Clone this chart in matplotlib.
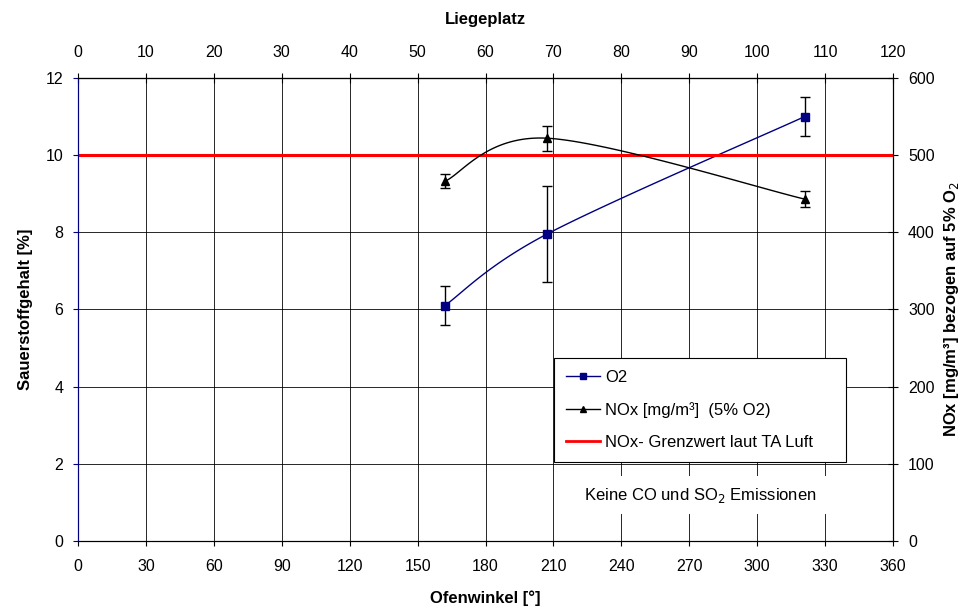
import matplotlib.pyplot as plt
from matplotlib.lines import Line2D
import numpy as np

plt.rcParams['font.family'] = ['Liberation Sans', 'DejaVu Sans']
plt.rcParams['font.size'] = 11.5

# Data
ofenwinkel = [162, 207, 321]
o2 = [6.1, 7.95, 11.0]
o2_err = [0.5, 1.25, 0.5]
nox = [466, 522, 443]
nox_err = [9, 16, 10]
nox_grenzwert = 500

x_ticks = np.arange(0, 361, 30)
liegeplatz_ticks = np.arange(0, 121, 10)
o2_ticks = np.arange(0, 13, 2)
nox_ticks = np.arange(0, 601, 100)

navy = '#000080'


def smooth(x, y, sx, sy, n=40):
    # Excel-like smoothed line (Bezier through the points)
    P = np.column_stack([np.asarray(x, float) * sx, np.asarray(y, float) * sy])
    E = np.vstack([P[0], P, P[-1]])
    parts = []
    for i in range(len(P) - 1):
        p0, p1, p2, p3 = E[i], E[i + 1], E[i + 2], E[i + 3]
        c1 = p1 + (p2 - p0) / 6
        c2 = p2 - (p3 - p1) / 6
        t = np.linspace(0, 1, n)[:, None]
        seg = (1 - t) ** 3 * p1 + 3 * (1 - t) ** 2 * t * c1 + 3 * (1 - t) * t ** 2 * c2 + t ** 3 * p2
        parts.append(seg if i == 0 else seg[1:])
    out = np.vstack(parts)
    return out[:, 0] / sx, out[:, 1] / sy


fig = plt.figure(figsize=(9.71, 6.14), dpi=100)
ax = fig.add_axes([0.0803, 0.1189, 0.8394, 0.7541])
ax2 = ax.twinx()

# O2 (left axis)
sx, sy = 815 / 360, 463 / 12
xs, ys = smooth(ofenwinkel, o2, sx, sy)
ax.plot(xs, ys, color=navy, lw=1, zorder=3)
ax.errorbar(ofenwinkel, o2, yerr=o2_err, fmt='none', ecolor='black', elinewidth=1,
            capsize=3.5, capthick=1, zorder=3)
ax.plot(ofenwinkel, o2, ls='none', marker='s', ms=5.5, color=navy, zorder=4)

# NOx (right axis)
xs, ys = smooth(ofenwinkel, nox, sx, 463 / 600)
ax2.plot(xs, ys, color='black', lw=1, zorder=3)
ax2.errorbar(ofenwinkel, nox, yerr=nox_err, fmt='none', ecolor='black', elinewidth=1,
             capsize=3.5, capthick=1, zorder=3)
ax2.plot(ofenwinkel, nox, ls='none', marker='^', ms=5.5, color='black', zorder=4)
ax2.axhline(nox_grenzwert, color='#FF0000', lw=2.2, zorder=2.5)

ax.set_xlim(0, 360)
ax.set_ylim(0, 12)
ax2.set_ylim(0, 600)
ax.set_xticks(x_ticks)
ax.set_yticks(o2_ticks)
ax2.set_yticks(nox_ticks)

ax.grid(True, color='black', lw=0.7, alpha=0.85)
ax.set_axisbelow(True)

for s in ['top', 'bottom', 'right']:
    ax2.spines[s].set_color('black')
ax.spines['left'].set_color(navy)
ax2.spines['left'].set_color(navy)
ax.tick_params(axis='y', direction='out', length=3.6, pad=7, colors=navy, labelcolor='black')
ax.tick_params(axis='x', direction='out', length=3.6, pad=9.5)
ax2.tick_params(axis='y', direction='inout', length=6.5, pad=7.5)

top = ax.secondary_xaxis('top', functions=(lambda v: v / 3, lambda v: v * 3))
top.set_xticks(liegeplatz_ticks)
top.tick_params(direction='inout', length=6.5, pad=10)
top.set_xlabel('Liegeplatz', fontweight='bold', fontsize=12, labelpad=15)

ax.set_xlabel('Ofenwinkel [°]', fontweight='bold', fontsize=12, labelpad=12)
ax.set_ylabel('Sauerstoffgehalt [%]', fontweight='bold', fontsize=12, labelpad=9)
ax2.set_ylabel('NOx [mg/m³] bezogen auf 5% O$_2$', fontweight='bold', fontsize=12, labelpad=5)

ax2.text(0.763, 0.099, 'Keine CO und SO$_2$ Emissionen', transform=ax2.transAxes,
         ha='center', va='center', fontsize=12, zorder=6,
         bbox=dict(facecolor='white', edgecolor='none', pad=7))

handles = [
    Line2D([], [], color=navy, lw=1, marker='s', ms=4),
    Line2D([], [], color='black', lw=1, marker='^', ms=4),
    Line2D([], [], color='#FF0000', lw=2),
]
labels = ['O2', 'NOx [mg/m³]  (5% O2)', 'NOx- Grenzwert laut TA Luft']
leg = ax2.legend(handles, labels, loc='lower left', bbox_to_anchor=(0.584, 0.1706, 0.358, 0.231),
                 mode='expand', fontsize=12, frameon=True, fancybox=False, framealpha=1,
                 edgecolor='black', handlelength=2.0, handletextpad=0.3, borderaxespad=0,
                 labelspacing=1.0, borderpad=0.75)
leg.get_frame().set_linewidth(0.8)
leg.set_zorder(10)

fig.savefig('out.png', dpi=100)
